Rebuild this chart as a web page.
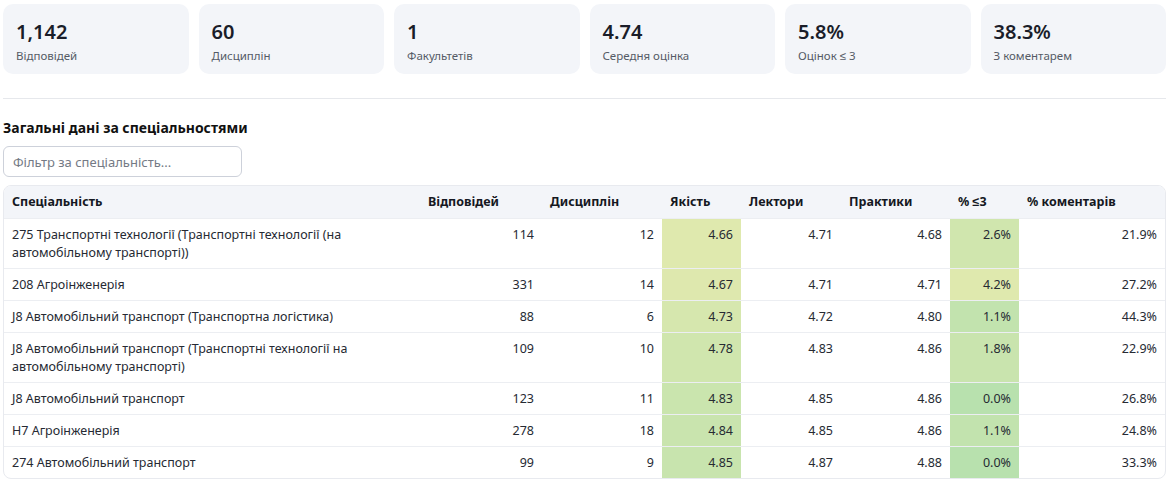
<!DOCTYPE html>
<html lang="uk">
<head>
<meta charset="utf-8">
<script src="https://cdn.jsdelivr.net/npm/chart.js@4.4.1/dist/chart.umd.min.js"></script>
<style>
  * { box-sizing: border-box; }
  html, body { margin: 0; padding: 0; background: #fff; }
  body { font-family: "Segoe UI", "Noto Sans", sans-serif; color: #1f2330; width: 1166px; height: 481px; overflow: hidden; }
  .wrap { position: absolute; left: 3px; top: 4px; width: 1163px; }
  .stats { display: grid; grid-template-columns: repeat(6, 1fr); gap: 10px; }
  .stat-card { background: #f3f5f9; border-radius: 10px; height: 70px; padding: 15px 13px 0; }
  .stat-value { font-size: 20px; font-weight: 600; line-height: 26px; color: #1a1d29; }
  .stat-label { font-size: 11.5px; color: #555b66; margin-top: 3px; line-height: 16px; }
  hr { border: 0; border-top: 1px solid #e6e8ec; margin: 24px 0 0; }
  h3 { font-size: 14px; font-weight: 700; margin: 20px 0 0; line-height: 18px; color: #111; }
  .filter { display: block; margin-top: 9px; width: 239px; height: 31px; border: 1px solid #cdd1da; border-radius: 6px; padding: 0 9px; font: 13px "Segoe UI", "Noto Sans", sans-serif; color: #333; }
  .filter::placeholder { color: #747a85; }
  .table-wrap { margin-top: 8px; border: 1px solid #e8eaef; border-radius: 8px; overflow: hidden; }
  table { border-collapse: collapse; width: 100%; table-layout: fixed; font-size: 12.5px; }
  th { background: #f3f5f9; font-weight: 700; text-align: left; height: 32px; padding: 0 8px; color: #151822; font-size: 12.5px; }
  td { padding: 7px 8px 6px; line-height: 18px; vertical-align: top; text-align: right; border-top: 1px solid #eceef2; color: #262a33; }
  td.name { text-align: left; }
  td.name div { max-width: 345px; }
</style>
</head>
<body>
<div class="wrap">
  <div class="stats" id="stats"></div>
  <hr>
  <h3>Загальні дані за спеціальностями</h3>
  <input class="filter" placeholder="Фільтр за спеціальність...">
  <div class="table-wrap">
    <table>
      <colgroup>
        <col style="width:416px"><col style="width:122px"><col style="width:120px"><col style="width:79px">
        <col style="width:100px"><col style="width:109px"><col style="width:69px"><col>
      </colgroup>
      <thead><tr id="head"></tr></thead>
      <tbody id="body"></tbody>
    </table>
  </div>
</div>
<canvas id="c" width="1" height="1" style="position:absolute;left:-10px;top:-10px"></canvas>
<script>
'use strict';

const statValues = ['1,142', '60', '1', '4.74', '5.8%', '38.3%'];
const statLabels = ['Відповідей', 'Дисциплін', 'Факультетів', 'Середня оцінка', 'Оцінок ≤ 3', 'З коментарем'];

const headers = ['Спеціальність', 'Відповідей', 'Дисциплін', 'Якість', 'Лектори', 'Практики', '% ≤3', '% коментарів'];
const specialties = [
  '275 Транспортні технології (Транспортні технології (на автомобільному транспорті))',
  '208 Агроінженерія',
  'J8 Автомобільний транспорт (Транспортна логістика)',
  'J8 Автомобільний транспорт (Транспортні технології на автомобільному транспорті)',
  'J8 Автомобільний транспорт',
  'H7 Агроінженерія',
  '274 Автомобільний транспорт'
];
const responses   = [114, 331, 88, 109, 123, 278, 99];
const disciplines = [12, 14, 6, 10, 11, 18, 9];
const quality     = [4.66, 4.67, 4.73, 4.78, 4.83, 4.84, 4.85];
const lecturers   = [4.71, 4.71, 4.72, 4.83, 4.85, 4.85, 4.87];
const practice    = [4.68, 4.71, 4.80, 4.86, 4.86, 4.86, 4.88];
const lowPct      = [2.6, 4.2, 1.1, 1.8, 0.0, 1.1, 0.0];
const commentPct  = [21.9, 27.2, 44.3, 22.9, 26.8, 24.8, 33.3];

// green -> yellow heat scale
function heat(t) {
  t = Math.max(0, Math.min(1, t));
  const g = [184, 225, 174], y = [230, 234, 174];
  const c = g.map((v, i) => Math.round(v + (y[i] - v) * t));
  return `rgb(${c.join(',')})`;
}

document.getElementById('stats').innerHTML = statValues.map((v, i) =>
  `<div class="stat-card"><div class="stat-value">${v}</div><div class="stat-label">${statLabels[i]}</div></div>`).join('');

document.getElementById('head').innerHTML = headers.map(h => `<th>${h}</th>`).join('');

document.getElementById('body').innerHTML = specialties.map((s, i) => `
  <tr>
    <td class="name"><div>${s}</div></td>
    <td>${responses[i]}</td>
    <td>${disciplines[i]}</td>
    <td style="background:${heat((5 - quality[i]) / 0.38 - 0.05)}">${quality[i].toFixed(2)}</td>
    <td>${lecturers[i].toFixed(2)}</td>
    <td>${practice[i].toFixed(2)}</td>
    <td style="background:${heat(lowPct[i] / 5)}">${lowPct[i].toFixed(1)}%</td>
    <td>${commentPct[i].toFixed(1)}%</td>
  </tr>`).join('');
</script>
</body>
</html>
